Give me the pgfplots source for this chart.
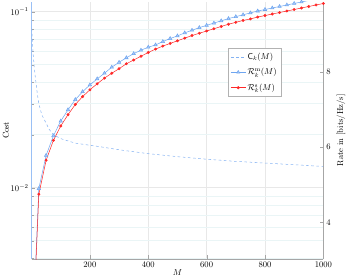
\documentclass[border=0pt]{standalone}
\usepackage{pgfplots}
\pgfplotsset{compat=1.18}
\usepackage{amsmath}
\begin{document}
\begin{tikzpicture}
\definecolor{cblue}{RGB}{110,165,240}
\definecolor{cred}{RGB}{255,40,40}
\definecolor{cgrid}{RGB}{234,245,246}
\begin{axis}[
  width=340pt, height=300pt, scale only axis,
  xmin=0, xmax=1000,
  ymode=log, ymin=0.00393, ymax=0.114,
  axis y line*=left,
  axis x line*=bottom,
  xlabel={$M$}, ylabel={Cost},
  xtick={200,400,600,800,1000},
  xticklabel style={/pgf/number format/1000 sep={}},
  grid=both,
  major grid style={gray!18},
  minor grid style={cgrid},
  y axis line style={cblue!70},
  x axis line style={gray!70},
  tick style={gray!70},
  xlabel style={yshift=5pt},
  ylabel style={yshift=-5pt},
  legend style={at={(0.673,0.818)}, anchor=north west, draw=gray!60, font=\normalsize, inner sep=3pt, row sep=5pt},
  legend cell align=left,
]
\addplot[cblue!85, dashed, semithick] coordinates {
(1,0.080) (3,0.068) (6,0.056) (10,0.047) (14,0.041) (20,0.034) (25,0.030) (35,0.026) (49,0.0234) (60,0.0215) (76,0.0199) (104,0.0189) (150,0.0179) (233,0.0171) (302,0.0164) (400,0.0156) (500,0.0150) (580,0.0146) (700,0.0141) (800,0.0138) (900,0.0135) (1000,0.0132)
};
\addlegendentry{$\mathsf{C}_k(M)$}
\addlegendimage{cblue, semithick, mark=triangle*, mark options={fill=cblue!60}}
\addlegendentry{$\mathcal{R}^{\mathrm{m}}_k(M)$}
\addlegendimage{cred, semithick, mark=*, mark size=1.5pt}
\addlegendentry{$\mathcal{R}^{\mathrm{s}}_k(M)$}
\end{axis}
\begin{axis}[
  width=340pt, height=300pt, scale only axis,
  xmin=0, xmax=1000,
  ymin=3.03, ymax=9.86,
  axis y line*=right,
  axis x line=none,
  ylabel={Rate in [bits/Hz/s]},
  ytick={4,6,8},
  y axis line style={gray!70},
  tick style={gray!70},
]
\addplot[cblue, semithick, mark=triangle*, mark options={fill=cblue!60}, mark size=2.3pt] coordinates {
(1,0.5) (25,4.90) (50,5.78) (75,6.30) (100,6.69) (125,6.99) (150,7.26) (175,7.47) (200,7.65) (225,7.81) (250,7.96) (275,8.12) (300,8.25) (325,8.37) (350,8.48) (375,8.57) (400,8.65) (425,8.71) (450,8.80) (475,8.88) (500,8.95) (525,9.03) (550,9.10) (575,9.17) (600,9.23) (625,9.29) (650,9.35) (675,9.41) (700,9.46) (725,9.51) (750,9.56) (775,9.61) (800,9.65) (825,9.69) (850,9.73) (875,9.77) (900,9.81) (925,9.85) (950,9.89) (975,9.93) (1000,9.97)
};
\addplot[cred, semithick, mark=*, mark size=1.4pt] coordinates {
(1,0.4) (25,4.75) (50,5.65) (75,6.18) (100,6.56) (125,6.86) (150,7.13) (175,7.34) (200,7.52) (225,7.68) (250,7.83) (275,7.96) (300,8.08) (325,8.21) (350,8.31) (375,8.41) (400,8.51) (425,8.60) (450,8.68) (475,8.75) (500,8.82) (525,8.89) (550,8.96) (575,9.02) (600,9.08) (625,9.14) (650,9.20) (675,9.26) (700,9.31) (725,9.36) (750,9.40) (775,9.45) (800,9.49) (825,9.53) (850,9.57) (875,9.61) (900,9.65) (925,9.69) (950,9.73) (975,9.77) (1000,9.81)
};
\end{axis}
\end{tikzpicture}
\end{document}
